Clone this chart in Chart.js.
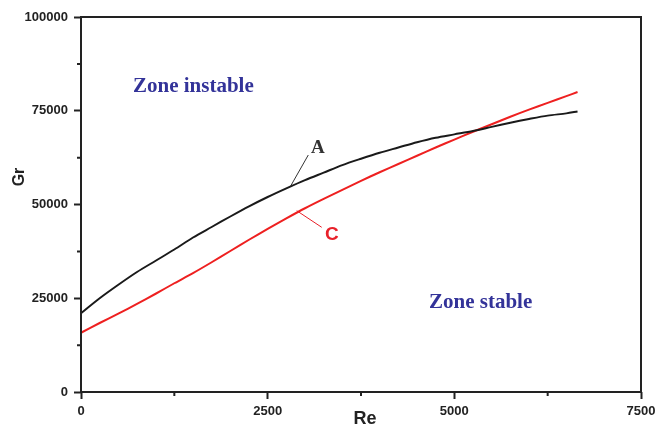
<!DOCTYPE html>
<html>
<head>
<meta charset="utf-8">
<script src="https://cdn.jsdelivr.net/npm/chart.js@4.4.0/dist/chart.umd.min.js"></script>
<style>
  html, body { margin: 0; padding: 0; background: #fff; }
  #wrap { width: 669px; height: 426px; position: relative; }
</style>
</head>
<body>
<div id="wrap"><canvas id="grChart"></canvas></div>
<script>
// Re values (x axis)
const reValues = [0, 250, 500, 750, 1000, 1250, 1500, 1750, 2000, 2250, 2500, 2750, 3000, 3250,
    3500, 3750, 4000, 4250, 4500, 4750, 5000, 5250, 5500, 5750, 6000, 6250, 6500, 6650];
// curve A (black)
const grA = [21000, 25000, 28600, 32000, 35000, 38000, 41200, 44000, 46800, 49500, 52000, 54300, 56500, 58500,
    60500, 62200, 63800, 65200, 66600, 67800, 68700, 69600, 70700, 71800, 72800, 73700, 74300, 74800];
// curve C (red)
const grC = [15800, 18400, 20900, 23500, 26200, 29000, 31700, 34600, 37600, 40600, 43500, 46300, 49000, 51500,
    53900, 56300, 58600, 60800, 63000, 65200, 67300, 69400, 71400, 73400, 75300, 77100, 78900, 80000];

const xMajor = [0, 2500, 5000, 7500];
const xMinor = [1250, 3750, 6250];
const yMajor = [0, 25000, 50000, 75000, 100000];
const yMinor = [12500, 37500, 62500, 87500];

function toPoints(xs, ys) {
    return xs.map((x, i) => ({ x: x, y: ys[i] }));
}

const axisColor = '#222';
const zoneBlue = '#333399';

// frame, minor ticks, axis titles and the annotations
const extrasPlugin = {
    id: 'extras',
    afterDraw(chart) {
        const ctx = chart.ctx;
        const area = chart.chartArea;
        const xs = chart.scales.x;
        const ys = chart.scales.y;
        ctx.save();

        // box around the plot
        ctx.strokeStyle = axisColor;
        ctx.lineWidth = 2;
        ctx.strokeRect(area.left, area.top, area.right - area.left, area.bottom - area.top);

        // minor ticks, shorter than the major ones
        ctx.beginPath();
        xMinor.forEach(v => {
            const px = xs.getPixelForValue(v);
            ctx.moveTo(px, area.bottom);
            ctx.lineTo(px, area.bottom + 4);
        });
        yMinor.forEach(v => {
            const py = ys.getPixelForValue(v);
            ctx.moveTo(area.left, py);
            ctx.lineTo(area.left - 4, py);
        });
        ctx.stroke();

        // axis titles
        ctx.fillStyle = axisColor;
        ctx.font = 'bold 18px "Liberation Sans", Arial, sans-serif';
        ctx.textAlign = 'center';
        ctx.textBaseline = 'alphabetic';
        ctx.fillText('Re', 365, 424);

        ctx.save();
        ctx.translate(24, 177);
        ctx.rotate(-Math.PI / 2);
        ctx.font = 'bold 16px "Liberation Sans", Arial, sans-serif';
        ctx.fillText('Gr', 0, 0);
        ctx.restore();

        // zone labels
        ctx.textAlign = 'left';
        ctx.fillStyle = zoneBlue;
        ctx.font = 'bold 21px "Liberation Serif", "Times New Roman", serif';
        ctx.fillText('Zone instable', xs.getPixelForValue(696), ys.getPixelForValue(80000));
        ctx.fillText('Zone stable', xs.getPixelForValue(4661), ys.getPixelForValue(22400));

        // curve labels with pointer lines
        ctx.lineWidth = 1;
        ctx.strokeStyle = '#333';
        ctx.beginPath();
        ctx.moveTo(xs.getPixelForValue(2808), ys.getPixelForValue(54933));
        ctx.lineTo(xs.getPixelForValue(3044), ys.getPixelForValue(63200));
        ctx.stroke();
        ctx.fillStyle = '#333';
        ctx.font = 'bold 19px "Liberation Serif", "Times New Roman", serif';
        ctx.fillText('A', xs.getPixelForValue(3080), ys.getPixelForValue(63733));

        ctx.strokeStyle = '#e8212a';
        ctx.beginPath();
        ctx.moveTo(xs.getPixelForValue(2889), ys.getPixelForValue(48347));
        ctx.lineTo(xs.getPixelForValue(3224), ys.getPixelForValue(43920));
        ctx.stroke();
        ctx.fillStyle = '#e8212a';
        ctx.font = 'bold 19px "Liberation Sans", Arial, sans-serif';
        ctx.fillText('C', xs.getPixelForValue(3268), ys.getPixelForValue(40533));

        ctx.restore();
    }
};

const tickFont = { family: '"Liberation Sans", Arial, sans-serif', size: 13, weight: 'bold' };

new Chart(document.getElementById('grChart').getContext('2d'), {
    type: 'line',
    data: {
        datasets: [{
            label: 'A',
            data: toPoints(reValues, grA),
            borderColor: '#1a1a1a',
            borderWidth: 2,
            pointRadius: 0,
            tension: 0.3
        }, {
            label: 'C',
            data: toPoints(reValues, grC),
            borderColor: '#ee2020',
            borderWidth: 2,
            pointRadius: 0,
            tension: 0.3
        }]
    },
    options: {
        responsive: true,
        maintainAspectRatio: false,
        animation: false,
        layout: {
            padding: { top: 17, right: 28, left: 0, bottom: 0 }
        },
        plugins: {
            legend: { display: false },
            tooltip: { enabled: false }
        },
        scales: {
            x: {
                type: 'linear',
                min: 0,
                max: 7500,
                afterFit: function(scale) { scale.height = 34; },
                afterBuildTicks: function(scale) {
                    scale.ticks = xMajor.map(v => ({ value: v }));
                },
                border: { display: false },
                grid: {
                    drawOnChartArea: false,
                    tickLength: 7,
                    tickWidth: 2,
                    tickColor: axisColor
                },
                ticks: {
                    color: axisColor,
                    font: tickFont,
                    padding: 5,
                    maxRotation: 0,
                    callback: v => String(v)
                }
            },
            y: {
                type: 'linear',
                min: 0,
                max: 100000,
                afterFit: function(scale) { scale.width = 81; },
                afterBuildTicks: function(scale) {
                    scale.ticks = yMajor.map(v => ({ value: v }));
                },
                border: { display: false },
                grid: {
                    drawOnChartArea: false,
                    tickLength: 7,
                    tickWidth: 2,
                    tickColor: axisColor
                },
                ticks: {
                    color: axisColor,
                    font: tickFont,
                    padding: 6,
                    callback: v => String(v)
                }
            }
        }
    },
    plugins: [extrasPlugin]
});
</script>
</body>
</html>
